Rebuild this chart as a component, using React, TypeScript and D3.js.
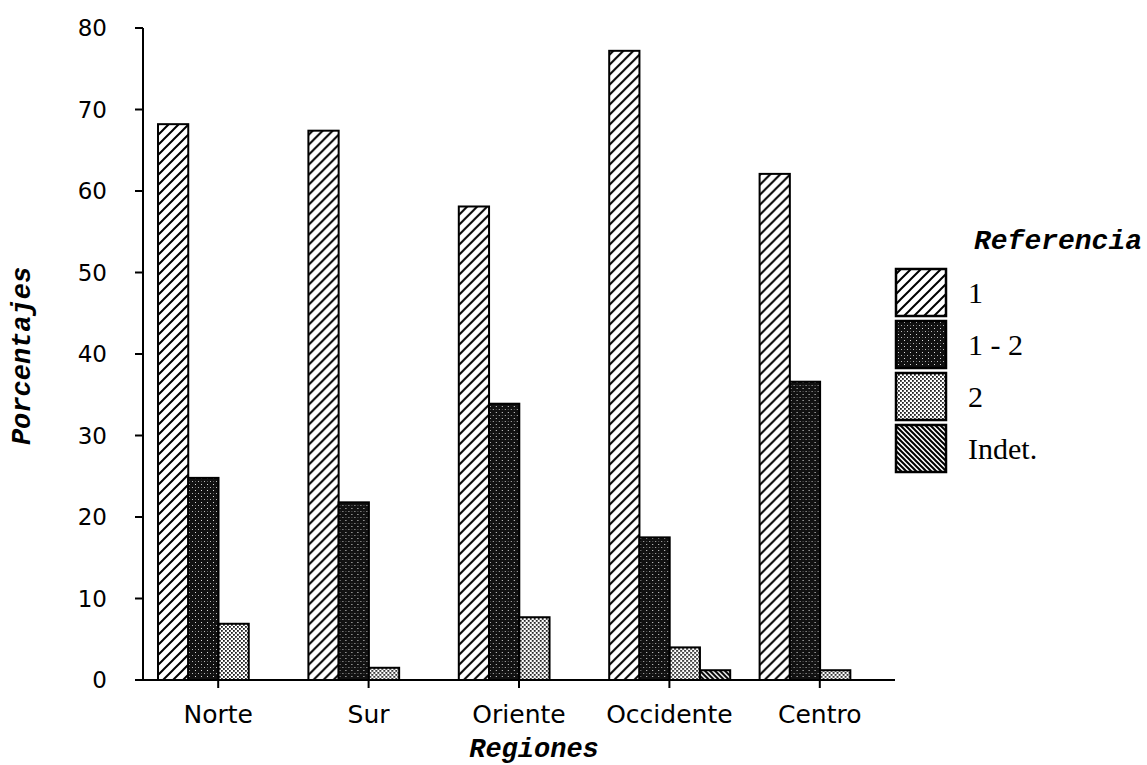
import React from "react";
import * as d3 from "d3";

const regions = ["Norte", "Sur", "Oriente", "Occidente", "Centro"];
const series = ["1", "1 - 2", "2", "Indet."];
const values1 = [68.2, 67.4, 58.1, 77.2, 62.1];
const values12 = [24.8, 21.8, 33.9, 17.5, 36.6];
const values2 = [6.9, 1.5, 7.7, 4.0, 1.2];
const valuesIndet = [0, 0, 0, 1.2, 0];
const yTicks = [0, 10, 20, 30, 40, 50, 60, 70, 80];

const W = 1147;
const H = 765;

export default function App() {
  const x0 = d3.scaleBand<string>().domain(regions).range([143, 895]);
  const x1 = d3.scaleBand<string>().domain(series).range([15, 136]);
  const y = d3.scaleLinear().domain([0, 80]).range([680, 28]);
  const allSeries = [values1, values12, values2, valuesIndet];
  const fills = ["url(#p1)", "url(#p12)", "url(#p2)", "url(#pI)"];
  const mono = "'Liberation Mono', 'DejaVu Sans Mono', monospace";
  const sans = "'DejaVu Sans', sans-serif";
  const serif = "'Liberation Serif', 'DejaVu Serif', serif";

  return (
    <svg width={W} height={H} style={{ position: "absolute", left: 0, top: 0, background: "#fff" }}>
      <defs>
        <pattern id="p1" patternUnits="userSpaceOnUse" width={10} height={10}>
          <rect width={10} height={10} fill="#fff" />
          <path d="M-2,2 L2,-2 M0,10 L10,0 M8,12 L12,8" stroke="#000" strokeWidth={2} />
        </pattern>
        <pattern id="p12" patternUnits="userSpaceOnUse" width={6} height={6}>
          <rect width={6} height={6} fill="#111" />
          <rect x={1} y={1} width={1} height={1} fill="#bbb" />
          <rect x={4} y={4} width={1} height={1} fill="#ddd" />
          <rect x={4} y={1} width={1} height={1} fill="#555" />
        </pattern>
        <pattern id="p2" patternUnits="userSpaceOnUse" width={4} height={4}>
          <rect width={4} height={4} fill="#fff" />
          <rect x={0} y={0} width={1.8} height={1.8} fill="#222" />
          <rect x={2} y={2} width={1.8} height={1.8} fill="#222" />
        </pattern>
        <pattern id="pI" patternUnits="userSpaceOnUse" width={5} height={5}>
          <rect width={5} height={5} fill="#fff" />
          <path d="M-1,-1 L6,6 M-1,4 L1,6 M4,-1 L6,1" stroke="#000" strokeWidth={2} />
        </pattern>
      </defs>

      {/* bars */}
      {regions.map((r, i) => (
        <g key={r} transform={`translate(${x0(r)},0)`}>
          {series.map((s, j) => {
            const v = allSeries[j][i];
            if (v <= 0) return null;
            return (
              <rect
                key={s}
                x={x1(s)}
                y={y(v)}
                width={x1.bandwidth()}
                height={y(0) - y(v)}
                fill={fills[j]}
                stroke="#000"
                strokeWidth={2}
              />
            );
          })}
        </g>
      ))}

      {/* y axis */}
      <line x1={143} x2={143} y1={y(80)} y2={y(0)} stroke="#000" strokeWidth={2} />
      {yTicks.map((t) => (
        <g key={t}>
          <line x1={135} x2={143} y1={y(t)} y2={y(t)} stroke="#000" strokeWidth={2} />
          <text x={107} y={y(t)} dy="0.36em" textAnchor="end" fontFamily={sans} fontSize={23}>
            {t}
          </text>
        </g>
      ))}

      {/* x axis */}
      <line x1={135} x2={895} y1={y(0)} y2={y(0)} stroke="#000" strokeWidth={2} />
      {regions.map((r) => {
        const cx = (x0(r) as number) + x0.bandwidth() / 2;
        return (
          <g key={r}>
            <line x1={cx} x2={cx} y1={y(0)} y2={y(0) + 8} stroke="#000" strokeWidth={2} />
            <text x={cx} y={723} textAnchor="middle" fontFamily={sans} fontSize={25}>
              {r}
            </text>
          </g>
        );
      })}

      {/* axis titles */}
      <text x={534} y={757} textAnchor="middle" fontFamily={mono} fontWeight="bold" fontStyle="italic" fontSize={27}>
        Regiones
      </text>
      <text
        transform={`translate(30,356) rotate(-90)`}
        textAnchor="middle"
        fontFamily={mono}
        fontWeight="bold"
        fontStyle="italic"
        fontSize={27}
      >
        Porcentajes
      </text>

      {/* legend */}
      <text x={974} y={249} fontFamily={mono} fontWeight="bold" fontStyle="italic" fontSize={28}>
        Referencia
      </text>
      {series.map((s, j) => (
        <g key={s}>
          <rect
            x={896}
            y={269 + j * 52}
            width={50}
            height={47}
            fill={fills[j]}
            stroke="#000"
            strokeWidth={2.5}
          />
          <text x={968} y={269 + j * 52 + 23} dy="0.36em" fontFamily={serif} fontSize={30}>
            {s}
          </text>
        </g>
      ))}
    </svg>
  );
}
